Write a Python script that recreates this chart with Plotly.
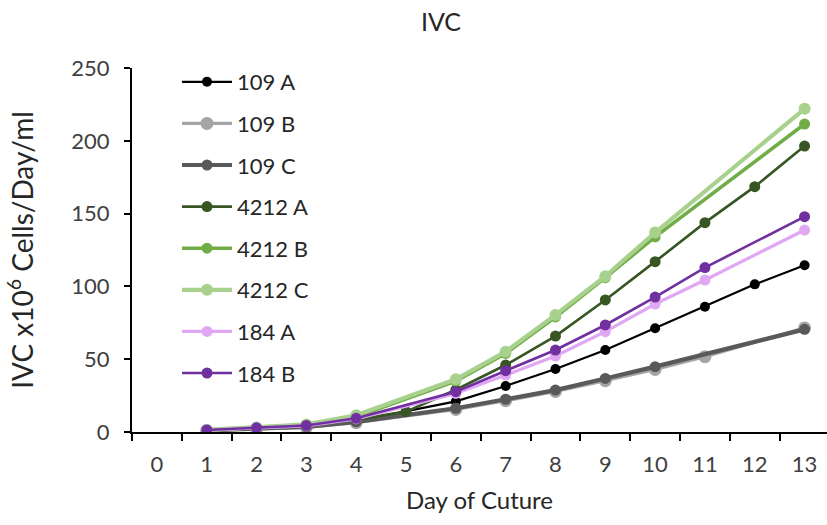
import plotly.graph_objects as go

# Day-of-culture categories shown on the x axis
day_labels = [str(d) for d in range(0, 14)]

# Integrated viable cell density (x10^6 cells/day/ml) per culture
days_109A = [1, 2, 3, 4, 6, 7, 8, 9, 10, 11, 12, 13]
ivc_109A = [1.2, 2.5, 4.0, 7.5, 21.0, 31.6, 43.3, 56.3, 71.2, 86.0, 101.4, 114.5]

days_109B = [1, 2, 3, 4, 6, 7, 8, 9, 10, 11, 13]
ivc_109B = [1.0, 2.0, 3.2, 6.5, 15.5, 21.5, 27.8, 35.2, 43.0, 51.7, 71.5]

days_109C = [1, 2, 3, 4, 6, 7, 8, 9, 10, 13]
ivc_109C = [1.1, 2.2, 3.5, 7.0, 16.3, 22.5, 28.8, 36.8, 44.9, 70.5]

days_4212A = [1, 2, 3, 4, 5, 6, 7, 8, 9, 10, 11, 12, 13]
ivc_4212A = [1.2, 2.6, 4.3, 8.5, 14.0, 29.0, 46.0, 65.9, 90.7, 117.0, 143.8, 168.5, 196.4]

days_4212B = [1, 2, 3, 4, 6, 7, 8, 9, 10, 13]
ivc_4212B = [1.3, 2.9, 4.8, 10.5, 35.0, 54.0, 79.0, 106.0, 134.0, 211.5]

days_4212C = [1, 2, 3, 4, 6, 7, 8, 9, 10, 13]
ivc_4212C = [1.4, 3.1, 5.2, 11.5, 36.2, 55.2, 80.4, 107.0, 137.0, 222.0]

days_184A = [1, 2, 3, 4, 6, 7, 8, 9, 10, 11, 13]
ivc_184A = [1.3, 2.7, 4.2, 9.0, 26.5, 39.1, 52.2, 68.9, 87.9, 104.4, 138.7]

days_184B = [1, 2, 3, 4, 6, 7, 8, 9, 10, 11, 13]
ivc_184B = [1.4, 2.9, 4.5, 9.4, 27.7, 42.1, 56.3, 73.5, 92.7, 112.9, 147.9]

series = [
    ("109 A", days_109A, ivc_109A, "#000000", 2.2, 10),
    ("109 B", days_109B, ivc_109B, "#A5A5A5", 3.2, 13),
    ("109 C", days_109C, ivc_109C, "#595959", 4.2, 11),
    ("4212 A", days_4212A, ivc_4212A, "#375623", 2.6, 11),
    ("4212 B", days_4212B, ivc_4212B, "#70AD47", 3.6, 11),
    ("4212 C", days_4212C, ivc_4212C, "#A9D18E", 4.2, 12),
    ("184 A", days_184A, ivc_184A, "#E0A8F2", 3.2, 11),
    ("184 B", days_184B, ivc_184B, "#7030A0", 2.6, 11),
]

FONT = "Lato, 'Open Sans', sans-serif"
TXT = "#404040"
DARK = "#262626"

fig = go.Figure()
for name, days, vals, color, lw, ms in series:
    fig.add_trace(go.Scatter(
        x=[str(d) for d in days], y=vals, name=name,
        mode="lines+markers", legendgroup=name,
        line=dict(color=color, width=lw),
        marker=dict(color=color, size=ms),
    ))

fig.update_layout(
    width=827, height=525,
    margin=dict(l=132, r=0, t=68, b=93),
    paper_bgcolor="white", plot_bgcolor="white",
    font=dict(family=FONT, size=22, color=TXT),
    title=dict(text="IVC", x=441 / 827, xref="container", xanchor="center",
               y=1 - 22 / 525, yref="container", yanchor="middle",
               font=dict(family=FONT, size=25, color=DARK)),
    showlegend=True,
    legend=dict(x=(177 - 132) / 695, y=1 - (61 - 68) / 364, xanchor="left", yanchor="top",
                bgcolor="rgba(0,0,0,0)", tracegroupgap=10, itemwidth=50,
                maxheight=1.0,
                font=dict(family=FONT, size=22, color=DARK)),
    xaxis=dict(
        type="category", categoryorder="array", categoryarray=day_labels,
        range=[-0.5, 13.45], tickson="boundaries",
        ticks="outside", ticklen=7, tickwidth=2, tickcolor="black",
        showline=True, linecolor="black", linewidth=2,
        showgrid=False, zeroline=False,
        ticklabelstandoff=12,
        tickfont=dict(family=FONT, size=22, color=TXT),
        title=dict(text="Day of Cuture", standoff=16,
                   font=dict(family=FONT, size=24, color=DARK)),
    ),
    yaxis=dict(
        range=[0, 250], tickvals=[0, 50, 100, 150, 200, 250],
        ticks="outside", ticklen=6, tickwidth=2, tickcolor="black",
        showline=True, linecolor="black", linewidth=2,
        showgrid=False, zeroline=False,
        ticklabelstandoff=10,
        tickfont=dict(family=FONT, size=22, color=TXT),
        title=dict(text="IVC x10<sup>6</sup> Cells/Day/ml", standoff=30,
                   font=dict(family=FONT, size=28, color=DARK)),
    ),
)

fig.write_html("out.html")
